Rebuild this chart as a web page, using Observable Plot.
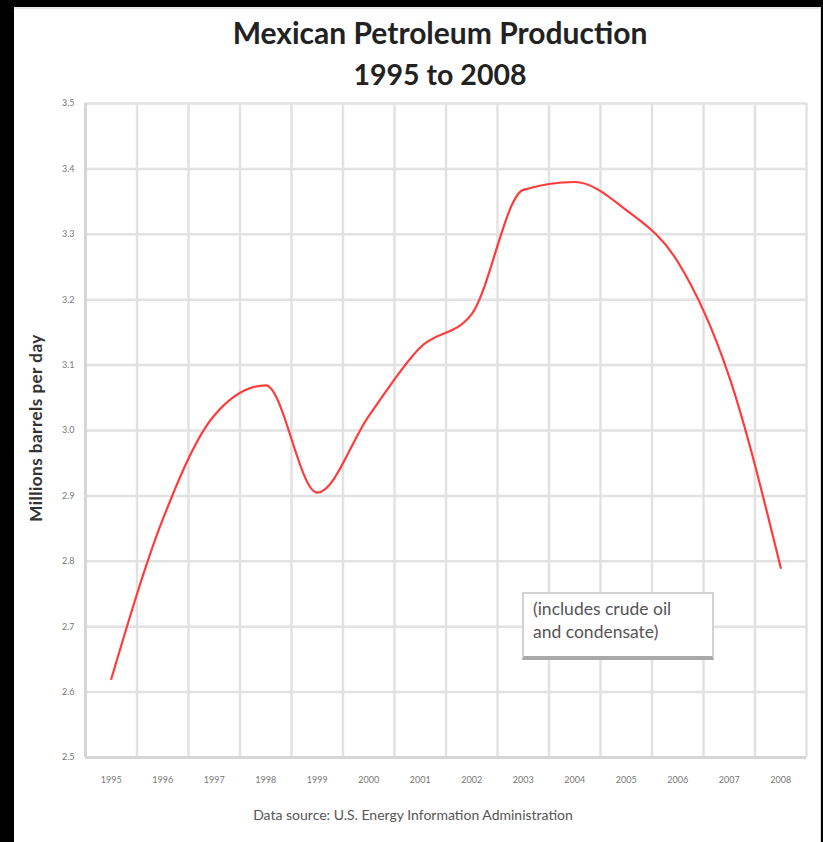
<!DOCTYPE html>
<html>
<head>
<meta charset="utf-8">
<script src="https://cdn.jsdelivr.net/npm/d3@7"></script>
<script src="https://cdn.jsdelivr.net/npm/@observablehq/plot@0.6"></script>
<style>
  html, body { margin: 0; padding: 0; background: #000; }
  #page { position: relative; width: 823px; height: 842px; overflow: hidden; background: #000; }
  #panel { position: absolute; left: 14px; top: 7px; width: 807px; height: 835px; background: #fff;
           border-top: 2px solid #e8e8e8; border-right: 1px solid #d8d8d8; box-sizing: border-box; }
  #chart { position: absolute; left: 0; top: 0; }
  .title { position: absolute; left: 14px; width: 852px; text-align: center; font-family: Lato, sans-serif;
           font-weight: 700; color: #222; line-height: 1; }
  #ylabel { position: absolute; left: 35px; top: 428px; transform: translate(-50%, -50%) rotate(-90deg);
            font-family: Lato, sans-serif; font-weight: 700; font-size: 17px; letter-spacing: 0.5px; color: #333; white-space: nowrap; }
  #caption { position: absolute; left: 0; width: 826px; top: 806px; text-align: center;
             font-family: Lato, sans-serif; font-size: 14px; color: #555; }
  #note { position: absolute; left: 522px; top: 592px; width: 192px; height: 68px; box-sizing: border-box;
          background: #fff; border: 2px solid #d2d2d2; border-bottom: 4px solid #a9a9a9;
          font-family: Lato, sans-serif; font-size: 17.5px; color: #555; line-height: 23px; padding: 3px 0 0 9px; white-space: nowrap; }
</style>
</head>
<body>
<div id="page">
  <div id="panel"></div>
  <div id="chart"></div>
  <div class="title" style="top:17px; font-size:30px">Mexican Petroleum Production</div>
  <div class="title" style="top:60px; font-size:28.5px">1995 to 2008</div>
  <div id="ylabel">Millions barrels per day</div>
  <div id="note">(includes crude oil<br>and condensate)</div>
  <div id="caption">Data source: U.S. Energy Information Administration</div>
</div>
<script>
const years = [1995, 1996, 1997, 1998, 1999, 2000, 2001, 2002, 2003, 2004, 2005, 2006, 2007, 2008];
const production = [2.62, 2.864, 3.023, 3.069, 2.905, 3.022, 3.127, 3.178, 3.368, 3.38, 3.337, 3.258, 3.082, 2.79];
const yTicks = [2.5, 2.6, 2.7, 2.8, 2.9, 3.0, 3.1, 3.2, 3.3, 3.4, 3.5];

const data = years.map((y, i) => ({year: y, value: production[i]}));
const xBounds = years.map(y => y - 0.5).concat([years[years.length - 1] + 0.5]);
const xMin = xBounds[0], xMax = xBounds[xBounds.length - 1];

const plot = Plot.plot({
  width: 823,
  height: 842,
  marginLeft: 85,
  marginRight: 17,
  marginTop: 103,
  marginBottom: 85,
  style: {background: "transparent", fontFamily: "Lato, sans-serif"},
  x: {domain: [xMin, xMax]},
  y: {domain: [yTicks[0], yTicks[yTicks.length - 1]]},
  marks: [
    Plot.ruleY(yTicks, {x1: xMin, x2: xMax, stroke: "#e2e2e2", strokeWidth: 2.5}),
    Plot.ruleX(xBounds, {y1: yTicks[0], y2: yTicks[yTicks.length - 1], stroke: "#e2e2e2", strokeWidth: 2.5}),
    Plot.ruleX([xMin], {y1: yTicks[0], y2: yTicks[yTicks.length - 1], stroke: "#d6d6d6", strokeWidth: 3}),
    Plot.ruleY([yTicks[0]], {x1: xMin, x2: xMax, stroke: "#d6d6d6", strokeWidth: 3}),
    Plot.axisY({ticks: yTicks, tickFormat: d3.format(".1f"), tickSize: 0, tickPadding: 11,
                fontSize: 9, fill: "#777", label: null}),
    Plot.axisX({ticks: years, tickFormat: d => String(d), tickSize: 0, tickPadding: 19,
                fontSize: 9, fill: "#777", label: null}),
    Plot.line(data, {x: "year", y: "value", stroke: "#ff3b3b", strokeWidth: 2.2, curve: "monotone-x"})
  ]
});
document.getElementById("chart").appendChild(plot);
</script>
</body>
</html>
